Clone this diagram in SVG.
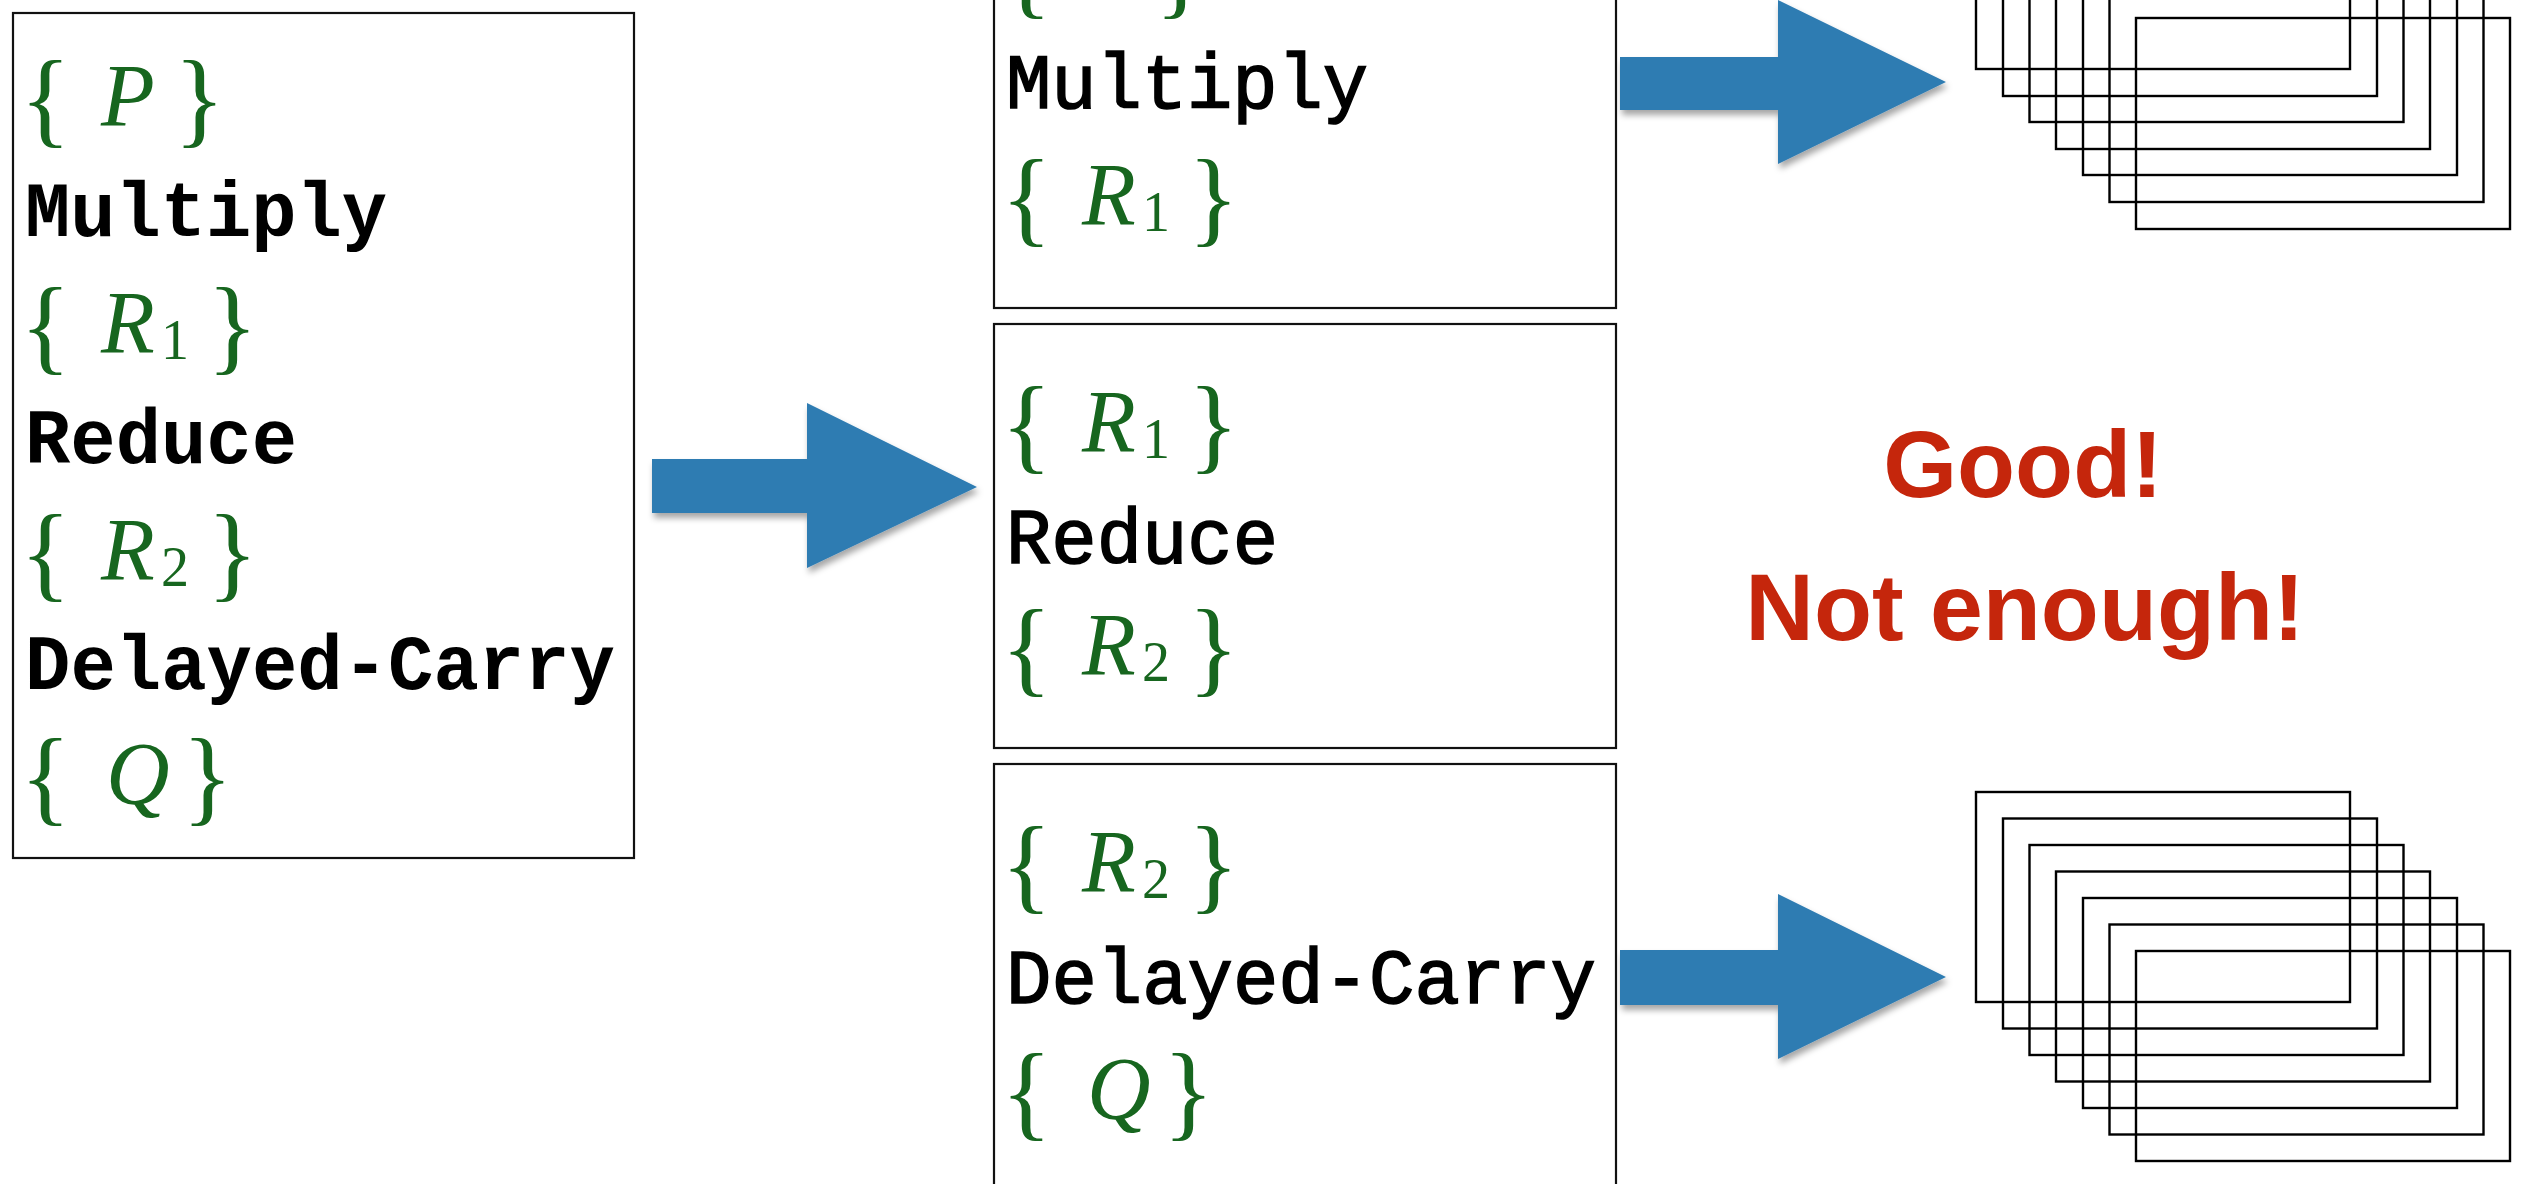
<svg xmlns="http://www.w3.org/2000/svg" width="2523" height="1184" viewBox="0 0 2523 1184">
  <style>
    .box { fill: #ffffff; stroke: #111111; stroke-width: 2.2; }
    .stack rect { fill: none; stroke: #000000; stroke-width: 2.4; }
    .math { fill: #17661f; font-family: "Liberation Serif", "Times New Roman", serif; }
    .br { font-size: 106px; font-style: normal; }
    .mv { font-size: 88px; font-style: italic; }
    .sub { font-size: 56px; font-style: normal; }
    .ttb { font-family: "Liberation Mono", "Courier New", monospace; font-weight: bold; font-size: 78px; fill: #000; }
    .tt { font-family: "Liberation Mono", "Courier New", monospace; font-weight: normal; font-size: 78px; fill: #000; stroke: #000; stroke-width: 1.6; }
    .verdict { font-family: "Liberation Sans", Arial, sans-serif; font-weight: bold; font-size: 95px; fill: #c5260c; text-anchor: middle; }
    .arrow { fill: #2f7cb2; filter: url(#sh); }
  </style>
  <defs>
    <filter id="sh" x="-10%" y="-10%" width="125%" height="135%">
      <feDropShadow dx="2" dy="5" stdDeviation="3" flood-color="#000000" flood-opacity="0.35"/>
    </filter>
  </defs>
  <rect width="2523" height="1184" fill="#ffffff"/>

  <!-- Left: whole program -->
  <g id="program">
    <rect class="box" x="13" y="13" width="621" height="845"/>
    <text class="math"><tspan class="br" x="20" y="134">{</tspan><tspan class="mv" x="101" y="125">P</tspan><tspan class="br" x="225" y="134" text-anchor="end">}</tspan></text>
    <text class="ttb" x="25" y="236" textLength="362" lengthAdjust="spacingAndGlyphs">Multiply</text>
    <text class="math"><tspan class="br" x="20" y="361">{</tspan><tspan class="mv" x="101" y="352">R</tspan><tspan class="sub" x="161" y="359">1</tspan><tspan class="br" x="258" y="361" text-anchor="end">}</tspan></text>
    <text class="ttb" x="25" y="463" textLength="272" lengthAdjust="spacingAndGlyphs">Reduce</text>
    <text class="math"><tspan class="br" x="20" y="588">{</tspan><tspan class="mv" x="101" y="579">R</tspan><tspan class="sub" x="161" y="586">2</tspan><tspan class="br" x="258" y="588" text-anchor="end">}</tspan></text>
    <text class="ttb" x="25" y="689" textLength="590" lengthAdjust="spacingAndGlyphs">Delayed-Carry</text>
    <text class="math"><tspan class="br" x="20" y="812">{</tspan><tspan class="mv" x="106" y="803">Q</tspan><tspan class="br" x="233" y="812" text-anchor="end">}</tspan></text>
  </g>

  <!-- Middle column: split pieces -->
  <g id="piece-multiply">
    <rect class="box" x="994" y="-20" width="622" height="328"/>
    <text class="math"><tspan class="br" x="1001" y="5">{</tspan><tspan class="mv" x="1082" y="-4">P</tspan><tspan class="br" x="1206" y="5" text-anchor="end">}</tspan></text>
    <text class="tt" x="1006" y="108" textLength="362" lengthAdjust="spacingAndGlyphs">Multiply</text>
    <text class="math"><tspan class="br" x="1001" y="233">{</tspan><tspan class="mv" x="1082" y="224">R</tspan><tspan class="sub" x="1142" y="231">1</tspan><tspan class="br" x="1239" y="233" text-anchor="end">}</tspan></text>
  </g>

  <g id="piece-reduce">
    <rect class="box" x="994" y="324" width="622" height="424"/>
    <text class="math"><tspan class="br" x="1001" y="460">{</tspan><tspan class="mv" x="1082" y="451">R</tspan><tspan class="sub" x="1142" y="458">1</tspan><tspan class="br" x="1239" y="460" text-anchor="end">}</tspan></text>
    <text class="tt" x="1006" y="563" textLength="272" lengthAdjust="spacingAndGlyphs">Reduce</text>
    <text class="math"><tspan class="br" x="1001" y="683">{</tspan><tspan class="mv" x="1082" y="674">R</tspan><tspan class="sub" x="1142" y="681">2</tspan><tspan class="br" x="1239" y="683" text-anchor="end">}</tspan></text>
  </g>

  <g id="piece-carry">
    <rect class="box" x="994" y="764" width="622" height="440"/>
    <text class="math"><tspan class="br" x="1001" y="900">{</tspan><tspan class="mv" x="1082" y="891">R</tspan><tspan class="sub" x="1142" y="898">2</tspan><tspan class="br" x="1239" y="900" text-anchor="end">}</tspan></text>
    <text class="tt" x="1006" y="1003" textLength="590" lengthAdjust="spacingAndGlyphs">Delayed-Carry</text>
    <text class="math"><tspan class="br" x="1001" y="1127">{</tspan><tspan class="mv" x="1087" y="1118">Q</tspan><tspan class="br" x="1214" y="1127" text-anchor="end">}</tspan></text>
  </g>

  <!-- Right: many cases -->
  <g id="cases-top" class="stack">
    <rect x="1976" y="-142" width="374" height="211"/>
    <rect x="2003" y="-115" width="374" height="211"/>
    <rect x="2029.5" y="-89" width="374" height="211"/>
    <rect x="2056" y="-62" width="374" height="211"/>
    <rect x="2083" y="-36" width="374" height="211"/>
    <rect x="2109.5" y="-9" width="374" height="211"/>
    <rect x="2136" y="18" width="374" height="211"/>
  </g>

  <g id="cases-bottom" class="stack">
    <rect x="1976" y="792" width="374" height="210"/>
    <rect x="2003" y="818.5" width="374" height="210"/>
    <rect x="2029.5" y="845" width="374" height="210"/>
    <rect x="2056" y="871.5" width="374" height="210"/>
    <rect x="2083" y="898" width="374" height="210"/>
    <rect x="2109.5" y="924.5" width="374" height="210"/>
    <rect x="2136" y="951" width="374" height="210"/>
  </g>

  <g id="verdicts">
    <text class="verdict" x="2023" y="497">Good!</text>
    <text class="verdict" x="2025" y="640">Not enough!</text>
  </g>

  <!-- Connectors -->
  <g id="connectors">
    <polygon class="arrow" points="652,459 807,459 807,403 977,487 807,568 807,513 652,513"/>
    <polygon class="arrow" points="1620,57 1778,57 1778,0 1946,82 1778,164 1778,110 1620,110"/>
    <polygon class="arrow" points="1620,950 1778,950 1778,894 1946,977 1778,1059 1778,1005 1620,1005"/>
  </g>
</svg>
